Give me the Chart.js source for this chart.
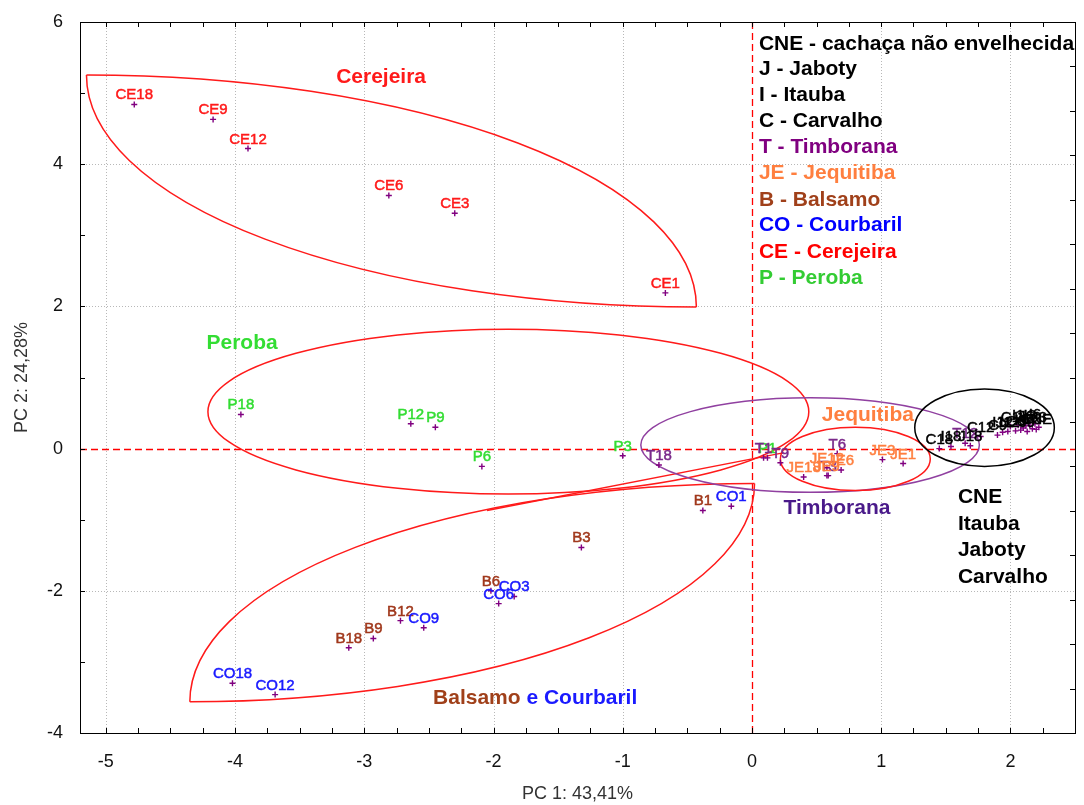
<!DOCTYPE html>
<html><head><meta charset="utf-8">
<script src="https://cdn.jsdelivr.net/npm/chart.js@4.4.1/dist/chart.umd.min.js"></script>
<style>html,body{margin:0;padding:0;background:#fff}#wrap{width:1084px;height:805px}</style>
</head><body><div id="wrap"><canvas id="c" width="1084" height="805"></canvas></div>
<script>
// ---- tick labels ----
const xTickValues = [-5, -4, -3, -2, -1, 0, 1, 2];
const yTickValues = [-4, -2, 0, 2, 4, 6];

// ---- Cerejeira ----
const ceNames = ['CE1', 'CE3', 'CE6', 'CE9', 'CE12', 'CE18'];
const ceX = [-0.67, -2.30, -2.81, -4.17, -3.90, -4.78];
const ceY = [2.19, 3.31, 3.56, 4.63, 4.22, 4.84];
// ---- Peroba ----
const pNames = ['P1', 'P3', 'P6', 'P9', 'P12', 'P18'];
const pX = [0.12, -1.00, -2.09, -2.45, -2.64, -3.955];
const pY = [-0.13, -0.10, -0.25, 0.30, 0.35, 0.48];
// ---- Balsamo ----
const bNames = ['B1', 'B3', 'B6', 'B9', 'B12', 'B18'];
const bX = [-0.38, -1.32, -2.02, -2.93, -2.72, -3.12];
const bY = [-0.87, -1.39, -2.00, -2.67, -2.42, -2.80];
// ---- Courbaril ----
const coNames = ['CO1', 'CO3', 'CO6', 'CO9', 'CO12', 'CO18'];
const coX = [-0.16, -1.84, -1.96, -2.54, -3.69, -4.02];
const coY = [-0.81, -2.08, -2.18, -2.52, -3.46, -3.30];
// ---- Timborana ----
const tNames = ['T1', 'T3', 'T6', 'T9', 'T12', 'T18'];
const tX = [0.09, 0.59, 0.66, 0.22, 1.65, -0.72];
const tY = [-0.13, -0.38, -0.07, -0.20, 0.075, -0.23];
// ---- Jequitiba ----
const jeNames = ['JE1', 'JE3', 'JE6', 'JE9', 'JE12', 'JE18'];
const jeX = [1.17, 1.01, 0.69, 0.58, 0.58, 0.40];
const jeY = [-0.21, -0.155, -0.30, -0.38, -0.27, -0.40];
// ---- CNE, Itauba, Jaboty, Carvalho ----
const cneNames = ['C18', 'I18', 'J18', 'C12', 'C9', 'I12', 'J12', 'C6', 'I9', 'J9', 'C3', 'I6', 'J6', 'I3', 'J3', 'C1', 'I1', 'J1', 'CNE'];
const cneX = [1.45, 1.54, 1.69, 1.77, 1.90, 1.94, 1.98, 2.04, 2.08, 2.13, 2.17, 2.19, 2.12, 2.15, 2.22, 2.00, 2.06, 2.10, 2.20];
const cneY = [0.00, 0.03, 0.04, 0.17, 0.19, 0.23, 0.24, 0.25, 0.26, 0.24, 0.28, 0.35, 0.32, 0.33, 0.30, 0.31, 0.33, 0.29, 0.27];

const FONT = '"Liberation Sans", Arial, sans-serif';
const MARK = '#800080';

const groups = [
  {names: ceNames, xs: ceX, ys: ceY, color: '#ff1a1a'},
  {names: pNames, xs: pX, ys: pY, color: '#33dd33'},
  {names: bNames, xs: bX, ys: bY, color: '#a0381c'},
  {names: coNames, xs: coX, ys: coY, color: '#1a1aff'},
  {names: tNames, xs: tX, ys: tY, color: '#7b2a8b'},
  {names: jeNames, xs: jeX, ys: jeY, color: '#ff7f3f'},
  {names: cneNames, xs: cneX, ys: cneY, color: '#000000'}
];

const datasets = groups.map(g => ({
  data: g.xs.map((x, i) => ({x: x, y: g.ys[i]})),
  labels: g.names,
  labelColor: g.color,
  pointStyle: 'cross',
  radius: 3,
  borderWidth: 1.4,
  borderColor: MARK,
  backgroundColor: MARK
}));

const legendLines = [
  ['CNE - cachaça não envelhecida', '#000000'],
  ['J - Jaboty', '#000000'],
  ['I - Itauba', '#000000'],
  ['C - Carvalho', '#000000'],
  ['T - Timborana', '#800080'],
  ['JE - Jequitiba', '#ff7f3f'],
  ['B - Balsamo', '#a0401a'],
  ['CO - Courbaril', '#0000ff'],
  ['CE - Cerejeira', '#ff0000'],
  ['P - Peroba', '#33cc33']
];
const cneList = ['CNE', 'Itauba', 'Jaboty', 'Carvalho'];

const decor = {
  id: 'decor',
  beforeDatasetsDraw(chart) {
    const {ctx, chartArea: a, scales: {x, y}} = chart;
    const X = v => x.getPixelForValue(v), Y = v => y.getPixelForValue(v);
    ctx.save();
    // dotted grid
    ctx.strokeStyle = '#b8b8b8'; ctx.lineWidth = 1; ctx.setLineDash([1, 2]);
    xTickValues.forEach(v => { if (v === 0) return; const p = Math.round(X(v)) + 0.5; ctx.beginPath(); ctx.moveTo(p, a.top); ctx.lineTo(p, a.bottom); ctx.stroke(); });
    yTickValues.forEach(v => { if (v === 0) return; const p = Math.round(Y(v)) + 0.5; ctx.beginPath(); ctx.moveTo(a.left, p); ctx.lineTo(a.right, p); ctx.stroke(); });
    ctx.restore();
    ctx.save();
    // red dashed zero lines
    ctx.strokeStyle = 'rgb(255,0,0)'; ctx.lineWidth = 1.3; ctx.setLineDash([7, 4]);
    const px0 = Math.round(X(0)) + 0.5;
    ctx.beginPath(); ctx.moveTo(px0, a.top); ctx.lineTo(px0, a.bottom); ctx.stroke();
    const py0 = Math.round(Y(0)) + 0.5;
    ctx.beginPath(); ctx.moveTo(a.left, py0); ctx.lineTo(a.right, py0); ctx.stroke();
    ctx.restore();
    ctx.save();
    ctx.lineWidth = 1.5;
    // lens shapes made of two quarter ellipses
    // Cerejeira: top-left corner A, bottom-right corner B
    (function () {
      const ax = X(-5.15), ay = Y(5.255), bx = X(-0.43), by = Y(1.99);
      const rx = bx - ax, ry = by - ay;
      ctx.strokeStyle = '#ff1a1a';
      ctx.beginPath(); ctx.ellipse(ax, by, rx, ry, 0, -Math.PI / 2, 0); ctx.stroke();
      ctx.beginPath(); ctx.ellipse(bx, ay, rx, ry, 0, Math.PI / 2, Math.PI); ctx.stroke();
    })();
    // Balsamo e Courbaril: bottom-left corner L, top-right corner R
    (function () {
      const lx = X(-4.35), ly = Y(-3.56), rX = X(0.02), rY = Y(-0.49);
      const rx = rX - lx, ry = ly - rY;
      ctx.strokeStyle = '#ff1a1a';
      ctx.beginPath(); ctx.ellipse(rX, ly, rx, ry, 0, Math.PI, 1.5 * Math.PI); ctx.stroke();
      ctx.beginPath(); ctx.ellipse(lx, rY, rx, ry, 0, 0, Math.PI / 2); ctx.stroke();
    })();
    // straight connector
    ctx.strokeStyle = '#ff1a1a';
    ctx.beginPath(); ctx.moveTo(X(-2.05), Y(-0.87)); ctx.lineTo(X(0.24), Y(-0.06)); ctx.stroke();
    // ellipses
    const ell = (cx, cy, rx, ry, col) => {
      ctx.strokeStyle = col; ctx.beginPath();
      ctx.ellipse(X(cx), Y(cy), Math.abs(X(cx + rx) - X(cx)), Math.abs(Y(cy + ry) - Y(cy)), 0, 0, 2 * Math.PI);
      ctx.stroke();
    };
    ell(-1.885, 0.52, 2.325, 1.16, '#ff1a1a');   // Peroba
    ell(0.45, 0.05, 1.31, 0.665, '#9040a0');     // Timborana
    ell(0.80, -0.145, 0.58, 0.445, '#ff1a1a');   // Jequitiba
    ell(1.80, 0.295, 0.54, 0.545, '#000000');    // CNE
    ctx.restore();
  },
  afterDatasetsDraw(chart) {
    const {ctx, chartArea: a, scales: {x, y}} = chart;
    const X = v => x.getPixelForValue(v), Y = v => y.getPixelForValue(v);
    ctx.save();
    // point labels
    ctx.font = '15px ' + FONT; ctx.textAlign = 'center'; ctx.textBaseline = 'alphabetic';
    ctx.lineWidth = 0.5;
    chart.data.datasets.forEach(ds => {
      ctx.fillStyle = ds.labelColor; ctx.strokeStyle = ds.labelColor;
      ds.data.forEach((pt, i) => {
        ctx.fillText(ds.labels[i], X(pt.x), Y(pt.y) - 5);
        ctx.strokeText(ds.labels[i], X(pt.x), Y(pt.y) - 5);
      });
    });
    // group titles
    ctx.font = 'bold 21px ' + FONT; ctx.textBaseline = 'middle';
    const t = (s, vx, vy, col, al) => { ctx.fillStyle = col; ctx.textAlign = al || 'center'; ctx.fillText(s, X(vx), Y(vy)); };
    t('Cerejeira', -2.87, 5.22, '#ff1a1a');
    t('Peroba', -3.946, 1.477, '#33dd33');
    t('Jequitiba', 0.897, 0.464, '#ff7f3f');
    t('Timborana', 0.658, -0.844, '#4a1a8a');
    t('Balsamo', -2.468, -3.516, '#a0401a', 'left');
    const w = ctx.measureText('Balsamo ').width;
    ctx.fillStyle = '#1a1aff'; ctx.textAlign = 'left'; ctx.fillText('e Courbaril', X(-2.468) + w, Y(-3.516));
    const cneYs = [-0.689, -1.062, -1.435, -1.814];
    cneList.forEach((s, i) => t(s, 1.594, cneYs[i], '#000000', 'left'));
    // legend text
    const legYs = [5.692, 5.34, 4.965, 4.599, 4.238, 3.872, 3.498, 3.137, 2.761, 2.401];
    legendLines.forEach((l, i) => t(l[0], 0.054, legYs[i], l[1], 'left'));

    // frame
    ctx.strokeStyle = '#000'; ctx.lineWidth = 1; ctx.setLineDash([]);
    ctx.strokeRect(Math.round(a.left) + 0.5, Math.round(a.top) + 0.5, Math.round(a.right - a.left), Math.round(a.bottom - a.top));
    // inward ticks
    ctx.beginPath();
    for (let v = -5; v <= 2.5001; v += 0.25) {
      const p = Math.round(X(v)) + 0.5;
      ctx.moveTo(p, a.bottom); ctx.lineTo(p, a.bottom - 5);
      ctx.moveTo(p, a.top); ctx.lineTo(p, a.top + 5);
    }
    for (let v = -4; v <= 6.0001; v += 1) {
      const p = Math.round(Y(v)) + 0.5;
      ctx.moveTo(a.left, p); ctx.lineTo(a.left + 5, p);
    }
    for (let v = -4; v <= 6.0001; v += 0.625) {
      const p = Math.round(Y(v)) + 0.5;
      ctx.moveTo(a.right, p); ctx.lineTo(a.right - 5, p);
    }
    ctx.stroke();
    ctx.restore();
  }
};

new Chart(document.getElementById('c'), {
  type: 'scatter',
  data: {datasets: datasets},
  options: {
    responsive: false,
    animation: false,
    events: [],
    layout: {padding: {top: 22, right: 9, left: 0, bottom: 0}},
    plugins: {legend: {display: false}, tooltip: {enabled: false}},
    scales: {
      x: {
        type: 'linear', min: -5.2, max: 2.5,
        afterBuildTicks: s => { s.ticks = xTickValues.map(v => ({value: v})); },
        afterFit: s => { s.height = 72; s.paddingLeft = 0; s.paddingRight = 0; },
        grid: {display: false, drawTicks: false},
        border: {display: false},
        ticks: {padding: 18, color: '#111', font: {family: FONT, size: 18}},
        title: {display: true, text: 'PC 1: 43,41%', color: '#333', font: {family: FONT, size: 18}, padding: {top: 0, bottom: 0}}
      },
      y: {
        type: 'linear', min: -4, max: 6,
        afterBuildTicks: s => { s.ticks = yTickValues.map(v => ({value: v})); },
        afterFit: s => { s.width = 80; s.paddingTop = 0; s.paddingBottom = 0; },
        grid: {display: false, drawTicks: false},
        border: {display: false},
        ticks: {padding: 17, color: '#111', font: {family: FONT, size: 18}},
        title: {display: true, text: 'PC 2: 24,28%', color: '#333', font: {family: FONT, size: 18}, padding: {top: 11, bottom: 0}}
      }
    }
  },
  plugins: [decor]
});
</script>
</body></html>
